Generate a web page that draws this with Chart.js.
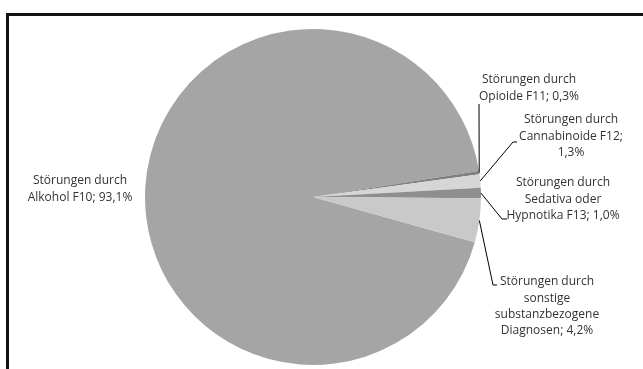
<!DOCTYPE html>
<html>
<head>
<meta charset="utf-8">
<script src="https://cdn.jsdelivr.net/npm/chart.js@4"></script>
<style>
  html, body { margin: 0; padding: 0; background: #fff; }
  #wrap { position: relative; width: 643px; height: 369px; overflow: hidden; }
  #frame {
    position: absolute; left: 6px; top: 13px; width: 700px; height: 400px;
    border-left: 3px solid #111; border-top: 3px solid #111;
  }
  canvas { position: absolute; left: 0; top: 0; }
</style>
</head>
<body>
<div id="wrap">
  <div id="frame"></div>
  <canvas id="pie" width="643" height="369"></canvas>
</div>
<script>
/* ── data ────────────────────────────────────────────────────── */
const categories = [
    "Störungen durch Alkohol F10",
    "Störungen durch Opioide F11",
    "Störungen durch Cannabinoide F12",
    "Störungen durch Sedativa oder Hypnotika F13",
    "Störungen durch sonstige substanzbezogene Diagnosen"
];
const shares = [93.1, 0.3, 1.3, 1.0, 4.2];
const labelLines = [
    ["Störungen durch", "Alkohol F10; 93,1%"],
    ["Störungen durch", "Opioide F11; 0,3%"],
    ["Störungen durch", "Cannabinoide F12;", "1,3%"],
    ["Störungen durch", "Sedativa oder", "Hypnotika F13; 1,0%"],
    ["Störungen durch", "sonstige", "substanzbezogene", "Diagnosen; 4,2%"]
];
const sliceColors = ["#a5a5a5", "#7f7f7f", "#d6d6d6", "#8e8e8e", "#c9c9c9"];

/* ── label placement (text centre x, first line y, leader elbow/end) ── */
const labelLayout = [
    { x: 80,  y: 181, leader: null },
    { x: 529, y: 80,  leader: [[479, 104]] },
    { x: 571, y: 120, leader: [[513, 142], [517, 142]] },
    { x: 563, y: 183, leader: [[502, 219], [507, 219]] },
    { x: 547, y: 282, leader: [[493, 285], [497, 285]] }
];

const pieLabels = {
    id: "pieLabels",
    afterDatasetsDraw(chart) {
        const ctx = chart.ctx;
        const arcs = chart.getDatasetMeta(0).data;
        ctx.save();
        ctx.font = "12px 'Open Sans'";
        ctx.fillStyle = "#333";
        ctx.textAlign = "center";
        ctx.textBaseline = "middle";
        arcs.forEach((arc, i) => {
            const lay = labelLayout[i];
            labelLines[i].forEach((t, j) => ctx.fillText(t, lay.x, lay.y + j * 16.3));
            if (!lay.leader) return;
            const mid = (arc.startAngle + arc.endAngle) / 2;
            ctx.beginPath();
            ctx.moveTo(arc.x + Math.cos(mid) * arc.outerRadius, arc.y + Math.sin(mid) * arc.outerRadius);
            lay.leader.forEach(p => ctx.lineTo(p[0], p[1]));
            ctx.strokeStyle = "#000";
            ctx.lineWidth = 1;
            ctx.stroke();
        });
        ctx.restore();
    }
};

new Chart(document.getElementById("pie"), {
    type: "pie",
    data: {
        labels: categories,
        datasets: [{
            data: shares,
            backgroundColor: sliceColors,
            borderWidth: 0
        }]
    },
    options: {
        responsive: false,
        animation: false,
        rotation: 105.6,
        layout: { padding: { left: 145, right: 162, top: 29, bottom: 4 } },
        plugins: {
            legend: { display: false },
            tooltip: { enabled: false }
        }
    },
    plugins: [pieLabels]
});
</script>
</body>
</html>
